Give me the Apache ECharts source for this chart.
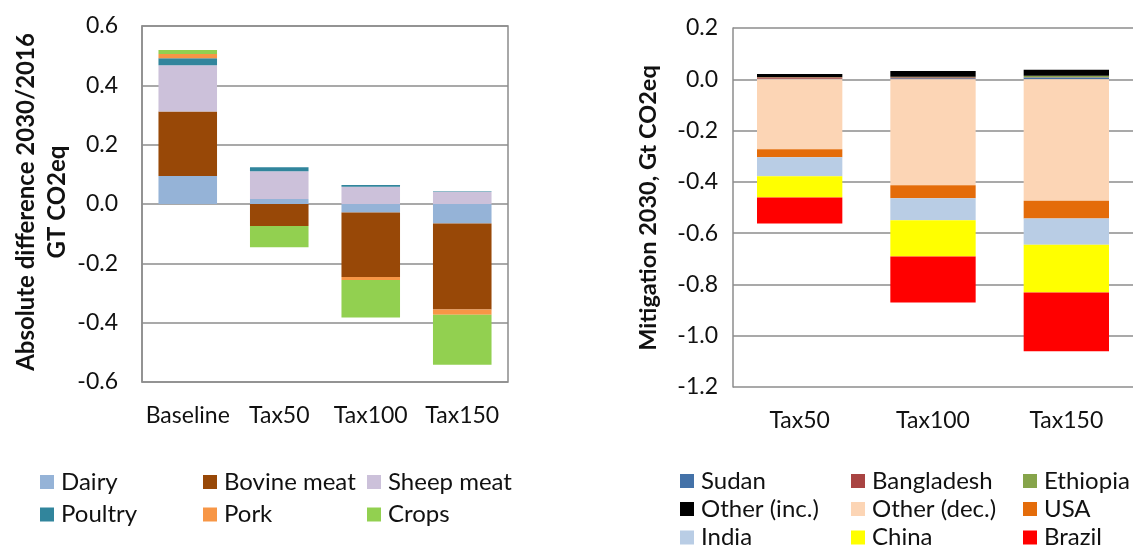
<!DOCTYPE html>
<html>
<head>
<meta charset="utf-8">
<script src="https://cdn.jsdelivr.net/npm/echarts@6/dist/echarts.min.js"></script>
<style>
  html, body { margin: 0; padding: 0; background: #fff; }
  #chart { width: 1133px; height: 546px; }
</style>
</head>
<body>
<div id="chart"></div>
<script>
// Left panel: change in emissions by product, 2030 vs 2016 (Gt CO2eq)
const scenarios = ['Baseline', 'Tax50', 'Tax100', 'Tax150'];
const dairy      = [0.094,  0.017, -0.029, -0.066];
const bovineMeat = [0.218, -0.074, -0.217, -0.290];
const sheepMeat  = [0.156,  0.093,  0.058,  0.041];
const poultry    = [0.023,  0.014,  0.006,  0.002];
const pork       = [0.015,  0.000, -0.010, -0.017];
const crops      = [0.013, -0.072, -0.127, -0.169];

// Right panel: mitigation in 2030 by region (Gt CO2eq)
const taxLevels  = ['Tax50', 'Tax100', 'Tax150'];
const sudan      = [0.002,  0.004,  0.007];
const bangladesh = [0.006,  0.004,  0.001];
const ethiopia   = [0.001,  0.002,  0.006];
const otherInc   = [0.012,  0.022,  0.023];
const otherDec   = [-0.273, -0.413, -0.474];
const usa        = [-0.031, -0.051, -0.069];
const india      = [-0.074, -0.086, -0.102];
const china      = [-0.083, -0.141, -0.186];
const brazil     = [-0.101, -0.179, -0.230];

const FONT = 'Lato, "Open Sans", sans-serif';
const GRID_COLOR = '#8c8c8c';
const TXT = '#111';

function bar(name, data, color, axis, stack) {
  return {
    name: name, type: 'bar', data: data, stack: stack,
    xAxisIndex: axis, yAxisIndex: axis,
    barWidth: '64%',
    itemStyle: { color: color },
    emphasis: { disabled: true }
  };
}

// one legend entry placed at (left, centre y)
function legendItem(name, left, cy) {
  return {
    left: left, top: cy - 13, padding: 0, itemGap: 0,
    itemWidth: 14, itemHeight: 14, icon: 'rect', selectedMode: false,
    textStyle: { color: TXT, fontFamily: FONT, fontSize: 24, lineHeight: 16, padding: [0, 0, 0, 2] },
    data: [name]
  };
}

const yLabel = {
  color: TXT, fontFamily: FONT, fontSize: 23,
  formatter: v => v.toFixed(1)
};

const chart = echarts.init(document.getElementById('chart'));
chart.setOption({
  animation: false,
  backgroundColor: '#fff',
  grid: [
    { left: 142, right: 625, top: 26, bottom: 164, show: true,
      borderColor: GRID_COLOR, borderWidth: 1.5, backgroundColor: 'transparent' },
    { left: 733, right: -1, top: 28, bottom: 159 }
  ],
  xAxis: [
    { type: 'category', gridIndex: 0, data: scenarios,
      axisLine: { show: false }, axisTick: { show: false },
      axisLabel: { color: TXT, fontFamily: FONT, fontSize: 23, margin: 22, interval: 0 } },
    { type: 'category', gridIndex: 1, data: taxLevels,
      axisLine: { show: false }, axisTick: { show: false },
      axisLabel: { color: TXT, fontFamily: FONT, fontSize: 23, margin: 22, interval: 0 } }
  ],
  yAxis: [
    { type: 'value', gridIndex: 0, min: -0.6, max: 0.6, interval: 0.2,
      axisLine: { show: true, lineStyle: { color: GRID_COLOR, width: 1.5 } },
      axisTick: { show: false },
      splitLine: { lineStyle: { color: GRID_COLOR, width: 1.5 } },
      axisLabel: Object.assign({ margin: 24 }, yLabel) },
    { type: 'value', gridIndex: 1, min: -1.2, max: 0.2, interval: 0.2,
      axisLine: { show: true, lineStyle: { color: GRID_COLOR, width: 1.5 } },
      axisTick: { show: false },
      splitLine: { lineStyle: { color: GRID_COLOR, width: 1.5 } },
      axisLabel: Object.assign({ margin: 15 }, yLabel) }
  ],
  legend: [
    legendItem('Dairy', 40, 483),
    legendItem('Bovine meat', 203, 483),
    legendItem('Sheep meat', 367, 483),
    legendItem('Poultry', 40, 515.5),
    legendItem('Pork', 203, 515.5),
    legendItem('Crops', 367, 515.5),

    legendItem('Sudan', 680, 482),
    legendItem('Bangladesh', 851, 482),
    legendItem('Ethiopia', 1023, 482),
    legendItem('Other (inc.)', 680, 510),
    legendItem('Other (dec.)', 851, 510),
    legendItem('USA', 1023, 510),
    legendItem('India', 680, 538.5),
    legendItem('China', 851, 538.5),
    legendItem('Brazil', 1023, 538.5)
  ],
  graphic: [
    { type: 'text', x: 42, y: 202, rotation: Math.PI / 2,
      style: { text: 'Absolute difference 2030/2016\nGT CO2eq', fill: TXT,
        font: 'bold 24px ' + FONT, lineHeight: 31,
        textAlign: 'center', textVerticalAlign: 'middle' } },
    { type: 'text', x: 648, y: 208, rotation: Math.PI / 2,
      style: { text: 'Mitigation 2030, Gt CO2eq', fill: TXT,
        font: 'bold 23.5px ' + FONT,
        textAlign: 'center', textVerticalAlign: 'middle' } }
  ],
  series: [
    bar('Dairy', dairy, '#95B3D7', 0, 'products'),
    bar('Bovine meat', bovineMeat, '#984807', 0, 'products'),
    bar('Sheep meat', sheepMeat, '#CCC1DA', 0, 'products'),
    bar('Poultry', poultry, '#31859C', 0, 'products'),
    bar('Pork', pork, '#F79646', 0, 'products'),
    bar('Crops', crops, '#92D050', 0, 'products'),

    bar('Sudan', sudan, '#4472A8', 1, 'regions'),
    bar('Bangladesh', bangladesh, '#A94442', 1, 'regions'),
    bar('Ethiopia', ethiopia, '#86A44A', 1, 'regions'),
    bar('Other (inc.)', otherInc, '#000000', 1, 'regions'),
    bar('Other (dec.)', otherDec, '#FCD5B5', 1, 'regions'),
    bar('USA', usa, '#E46C0A', 1, 'regions'),
    bar('India', india, '#B9CDE5', 1, 'regions'),
    bar('China', china, '#FFFF00', 1, 'regions'),
    bar('Brazil', brazil, '#FF0000', 1, 'regions')
  ]
});
</script>
</body>
</html>
